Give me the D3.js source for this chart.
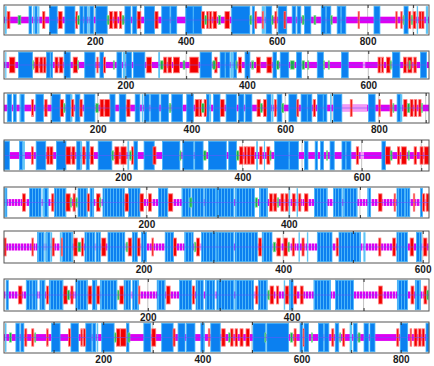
<!DOCTYPE html>
<html>
<head>
<meta charset="utf-8">
<script src="https://cdn.jsdelivr.net/npm/d3@7"></script>
<style>
  html, body { margin: 0; padding: 0; background: #fff; }
  svg { display: block; }
</style>
</head>
<body>
<svg id="chart" width="434" height="366"></svg>
<script>
// sequence length of each track and the labelled positions
const seqLengths = [935, 700, 907, 713, 597, 609, 591, 857];
const tickLabels = [200, 400, 600, 800];

// track 1
const r1Helix = [[55,61],[68,73],[100,117],[134,156],[167,174],[176,183],[189,197],[202,227],[266,279],[283,292],[309,331],[347,365],[367,380],[400,416],[417,435],[501,541],[546,551],[576,589],[603,622],[634,642],[645,653],[661,675],[698,708],[709,719],[733,741],[742,752],[814,827],[880,889]];
const r1Lite = [[2,6],[64,67],[75,78],[185,188],[567,574],[908,911],[928,933]];
const r1Strand = [[7,13],[85,90],[120,128],[158,162],[232,239],[242,249],[254,259],[293,301],[332,339],[435,441],[446,450],[452,457],[460,468],[486,496],[552,556],[568,571],[596,600],[616,620],[779,782],[862,865],[873,876],[890,895],[900,906],[913,918],[919,924]];
const r1Turn = [[31,37],[162,166],[227,231],[260,264],[442,446],[472,476],[541,545],[589,592],[656,660],[682,686],[719,722],[878,880],[896,899]];
const r1Pale = [];

// track 2
const r2Helix = [[24,47],[70,76],[77,80],[99,109],[133,150],[158,164],[186,194],[201,210],[213,232],[323,342],[356,364],[365,372],[378,383],[397,405],[443,449],[455,469],[482,490],[516,526],[556,567],[640,652],[686,696]];
const r2Lite = [[2,4],[196,200],[254,257],[373,377]];
const r2Strand = [[9,18],[51,57],[59,64],[65,69],[84,89],[91,97],[114,121],[153,155],[164,167],[235,243],[263,268],[270,276],[279,289],[306,320],[347,351],[386,391],[416,422],[433,441],[616,620],[622,625],[630,636],[658,663],[665,672],[675,679]];
const r2Turn = [[47,49],[121,123],[180,182],[258,262],[295,298],[344,348],[382,384],[408,411],[449,453],[472,478],[491,495],[500,502],[526,528],[534,536],[636,638],[667,669]];
const r2Pale = [[591,595]];

// track 3
const r3Helix = [[7,16],[20,26],[36,43],[68,84],[102,120],[132,142],[152,162],[171,194],[226,237],[246,260],[280,290],[299,310],[313,331],[335,351],[358,381],[390,404],[432,438],[447,461],[474,496],[501,512],[515,529],[561,570],[583,593],[608,625],[634,647],[648,657],[669,681],[682,689],[703,721],[778,792],[839,846]];
const r3Lite = [[33,36],[143,146],[294,297],[439,442],[572,575],[696,699],[847,850]];
const r3Strand = [[59,63],[87,92],[120,127],[144,149],[162,167],[205,213],[215,226],[262,269],[408,416],[417,422],[427,432],[462,470],[540,547],[554,560],[577,581],[625,629],[660,665],[739,743],[800,803],[824,828],[853,860],[867,873],[876,881],[885,890]];
const r3Turn = [[127,130],[196,201],[353,356],[422,427],[547,551],[593,597],[830,832],[861,866],[891,893]];
const r3Pale = [[721,775]];

// track 4
const r4Helix = [[0,9],[26,31],[54,70],[88,104],[122,128],[138,143],[158,181],[218,224],[235,252],[266,295],[300,318],[320,334],[343,373],[377,390],[454,478],[479,494],[504,510],[522,526],[531,536],[547,554],[567,573],[574,582],[634,640]];
const r4Lite = [[32,35],[129,131],[207,210],[423,426],[436,438]];
const r4Strand = [[46,49],[72,76],[77,82],[104,112],[114,119],[132,136],[145,150],[186,193],[196,205],[214,217],[250,255],[395,401],[403,407],[408,413],[414,420],[429,433],[441,446],[591,595],[640,648],[660,664],[667,675],[688,692],[698,703],[705,713]];
const r4Turn = [[181,184],[211,214],[295,297],[335,339],[390,394],[446,448],[541,543],[648,651],[678,680]];
const r4Pale = [[598,604]];

// track 5
const r5Helix = [[1,4],[36,52],[57,62],[71,87],[104,117],[121,126],[139,169],[175,191],[217,230],[250,262],[264,280],[282,299],[299,323],[325,352],[359,370],[436,454],[463,475],[477,496],[511,515],[552,564],[564,570],[585,588]];
const r5Lite = [[54,57],[271,273],[400,402],[411,413]];
const r5Strand = [[26,30],[67,70],[87,93],[97,100],[117,120],[130,135],[170,175],[191,196],[203,207],[231,237],[373,377],[379,383],[389,393],[395,399],[405,409],[414,417],[422,427],[526,531],[548,550],[575,577],[588,591],[593,597]];
const r5Turn = [[93,95],[101,103],[134,136],[261,264],[353,356],[384,386]];
const r5Pale = [];

// track 6
const r6Helix = [[48,57],[61,66],[83,98],[116,130],[132,138],[149,173],[184,191],[197,204],[231,243],[259,271],[283,305],[305,329],[331,363],[370,384],[449,470],[480,511],[563,578],[591,598]];
const r6Lite = [[58,60],[67,69],[80,82],[422,424],[434,436],[515,518]];
const r6Strand = [[0,3],[40,42],[69,72],[82,84],[100,105],[111,114],[140,146],[178,183],[191,195],[212,214],[243,247],[276,280],[365,369],[391,396],[401,406],[413,416],[427,430],[476,479],[537,540],[557,561],[582,587],[601,606]];
const r6Turn = [[106,110],[175,177],[273,275],[386,389],[407,409]];
const r6Pale = [];

// track 7
const r7Helix = [[3,6],[31,39],[40,46],[50,57],[63,82],[100,116],[123,129],[134,157],[167,176],[179,187],[213,224],[244,261],[267,277],[280,293],[296,320],[322,347],[354,366],[397,402],[431,454],[461,486],[547,561],[572,579]];
const r7Lite = [[389,391]];
const r7Strand = [[20,25],[59,62],[83,88],[93,96],[117,122],[129,133],[161,166],[187,189],[226,231],[262,265],[350,353],[370,375],[379,382],[391,396],[403,407],[412,416],[521,526],[566,570],[584,588]];
const r7Turn = [[88,91],[158,160],[367,369],[588,590]];
const r7Pale = [];

// track 8
const r8Helix = [[24,31],[34,40],[96,113],[135,150],[165,177],[179,185],[197,222],[247,252],[282,296],[318,341],[351,365],[368,385],[397,403],[417,436],[502,527],[530,574],[597,602],[605,614],[634,644],[646,655],[668,675],[705,712],[726,735],[738,748],[799,814],[851,857]];
const r8Lite = [[2,5],[187,190],[403,405],[697,702]];
const r8Strand = [[42,46],[56,60],[86,89],[130,134],[155,158],[160,164],[227,234],[235,246],[298,306],[341,345],[412,415],[439,446],[457,462],[466,471],[476,482],[488,495],[585,589],[603,605],[661,665],[683,687],[792,796],[819,822],[827,833],[836,841],[843,848]];
const r8Turn = [[11,15],[62,64],[223,226],[250,254],[453,456],[526,528],[578,582],[620,622],[677,679],[714,718]];
const r8Pale = [];

const rows = [
  { helix: r1Helix, lite: r1Lite, strand: r1Strand, turn: r1Turn, pale: r1Pale },
  { helix: r2Helix, lite: r2Lite, strand: r2Strand, turn: r2Turn, pale: r2Pale },
  { helix: r3Helix, lite: r3Lite, strand: r3Strand, turn: r3Turn, pale: r3Pale },
  { helix: r4Helix, lite: r4Lite, strand: r4Strand, turn: r4Turn, pale: r4Pale },
  { helix: r5Helix, lite: r5Lite, strand: r5Strand, turn: r5Turn, pale: r5Pale },
  { helix: r6Helix, lite: r6Lite, strand: r6Strand, turn: r6Turn, pale: r6Pale },
  { helix: r7Helix, lite: r7Lite, strand: r7Strand, turn: r7Turn, pale: r7Pale },
  { helix: r8Helix, lite: r8Lite, strand: r8Strand, turn: r8Turn, pale: r8Pale }
];

// layout of the panels
const boxTop = [5, 51, 93, 140, 187, 231, 279, 322];
const boxBottom = [35, 79, 123, 171, 218, 263, 311, 353];
const striped = [false, false, false, false, true, true, true, false];
const left = 4, right = 429;

const colors = {
  helix: '#0b80f0', helixEdge: '#45b4f7', lite: '#5cc4f6',
  strand: '#f20000', strandEdge: '#ff7a7a',
  turn: '#12b443', turnEdge: '#80e090',
  coil: '#dc00f2', coilPale: '#f29af5', center: '#6a52ff'
};

const svg = d3.select('#chart');

// stripe patterns for the wider panels
const defs = svg.append('defs');
const cp = defs.append('pattern').attr('id', 'coilStripe')
  .attr('patternUnits', 'userSpaceOnUse').attr('width', 3).attr('height', 20);
cp.append('rect').attr('width', 3).attr('height', 20).attr('fill', '#f3a6f7');
cp.append('rect').attr('width', 2.1).attr('height', 20).attr('fill', colors.coil);
const hp = defs.append('pattern').attr('id', 'helixStripe')
  .attr('patternUnits', 'userSpaceOnUse').attr('width', 3).attr('height', 40);
hp.append('rect').attr('width', 3).attr('height', 40).attr('fill', colors.helix);
hp.append('rect').attr('x', 2.2).attr('width', 0.8).attr('height', 40).attr('fill', '#5ec2fa');

rows.forEach((row, i) => {
  const len = seqLengths[i];
  const top = boxTop[i], bottom = boxBottom[i];
  const x = d3.scaleLinear().domain([0, len]).range([left, right]);
  const y = d3.scaleLinear().domain([-1, 1]).range([bottom, top]);
  const g = svg.append('g');
  const hundreds = d3.range(100, len, 100);

  // grid
  g.selectAll('.grid').data(hundreds).enter().append('line')
    .attr('x1', d => x(d)).attr('x2', d => x(d))
    .attr('y1', top).attr('y2', bottom)
    .attr('stroke', '#a8a8a8').attr('stroke-width', 0.7);

  // coil band
  g.append('rect')
    .attr('x', x(0)).attr('width', x(len) - x(0))
    .attr('y', y(0.22)).attr('height', y(-0.22) - y(0.22))
    .attr('fill', striped[i] ? 'url(#coilStripe)' : colors.coil);

  g.selectAll('.pale').data(row.pale).enter().append('rect')
    .attr('x', d => x(d[0])).attr('width', d => x(d[1]) - x(d[0]))
    .attr('y', y(0.22)).attr('height', y(-0.22) - y(0.22))
    .attr('fill', colors.coilPale);

  const seg = (data, h, fill, stroke, sw) => {
    g.selectAll(null).data(data).enter().append('rect')
      .attr('x', d => x(d[0]))
      .attr('width', d => Math.max(0.8, x(d[1]) - x(d[0])))
      .attr('y', y(h)).attr('height', y(-h) - y(h))
      .attr('fill', fill)
      .attr('stroke', stroke).attr('stroke-width', sw);
  };

  seg(row.lite, 0.92, colors.lite, 'none', 0);
  seg(row.helix, 0.92, striped[i] ? 'url(#helixStripe)' : colors.helix, colors.helixEdge, 0.8);
  seg(row.strand, 0.56, colors.strand, colors.strandEdge, 0.8);
  seg(row.turn, 0.3, colors.turn, colors.turnEdge, 0.7);

  // center line
  g.append('line')
    .attr('x1', x(0)).attr('x2', x(len))
    .attr('y1', y(0)).attr('y2', y(0))
    .attr('stroke', colors.center).attr('stroke-width', 0.7).attr('opacity', 0.75);

  // frame
  g.append('rect')
    .attr('x', left).attr('y', top)
    .attr('width', right - left).attr('height', bottom - top)
    .attr('fill', 'none').attr('stroke', '#555').attr('stroke-width', 1);

  // axes
  const topAxis = d3.axisTop(x).tickValues(hundreds)
    .tickSizeInner(-3).tickSizeOuter(0).tickFormat('');
  const gt = g.append('g').attr('transform', `translate(0,${top})`).call(topAxis);
  gt.select('.domain').remove();
  gt.selectAll('.tick line').attr('stroke', '#333');

  const bottomAxis = d3.axisBottom(x).tickValues(hundreds)
    .tickSizeInner(-3).tickSizeOuter(0).tickPadding(2.5)
    .tickFormat(d => tickLabels.includes(d) ? d : '');
  const gb = g.append('g').attr('transform', `translate(0,${bottom})`).call(bottomAxis);
  gb.select('.domain').remove();
  gb.selectAll('.tick line').attr('stroke', '#333');
  gb.selectAll('.tick text')
    .attr('font-family', '"Liberation Sans", Arial, sans-serif')
    .attr('font-size', 10).attr('font-weight', 'bold').attr('fill', '#1a1a1a')
    .each(function(d) {
      const w = this.getComputedTextLength();
      const cx = x(d);
      if (cx + w / 2 > 431) d3.select(this).attr('x', 431 - w / 2 - cx);
    });
});
</script>
</body>
</html>
